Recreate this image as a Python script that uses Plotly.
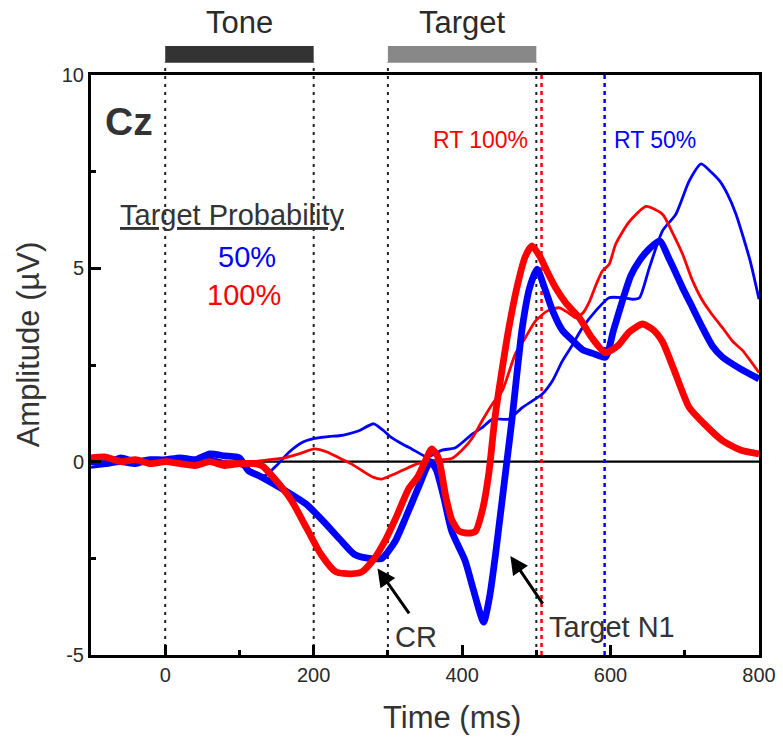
import plotly.graph_objects as go

# ---------------- data ----------------
thick_red_t = [-100,-80,-60,-40,-20,0,20,40,60,80,100,120,130,150,170,190,210,230,250,265,282,296,312,328,340,350,359,368,378,386,396,408,418,428,436,444,454,463,475,485,494,505,515,526,540,558,575,593,610,625,643,658,670,685,706,725,751,775,800]
thick_red_v = [0.1,0.12,0.0,0.05,-0.05,0.0,-0.05,-0.1,0.0,-0.1,-0.05,-0.05,-0.1,-0.5,-1.0,-1.7,-2.4,-2.85,-2.9,-2.85,-2.5,-2.05,-1.4,-0.7,-0.4,0.0,0.33,0.1,-0.9,-1.5,-1.8,-1.85,-1.8,-1.2,-0.3,1.1,2.4,3.46,4.6,5.3,5.58,5.3,4.9,4.5,4.1,3.72,3.2,2.82,3.0,3.35,3.56,3.4,3.1,2.4,1.4,1.0,0.54,0.3,0.2]

thick_blue_t = [-100,-80,-60,-40,-20,0,20,40,60,80,100,112,130,166,190,211,235,255,275,292,310,325,341,357,365,375,386,404,415,429,437,445,452,459,467,474,481,491,501,511,522,535,549,562,576,593,604,616,627,639,652,666,680,697,710,724,737,751,775,800]
thick_blue_v = [0.0,-0.05,0.1,0.0,0.05,0.05,0.1,0.05,0.2,0.15,0.1,-0.23,-0.4,-0.8,-1.1,-1.5,-2.0,-2.4,-2.5,-2.5,-2.05,-1.4,-0.67,0.0,-0.2,-0.9,-1.8,-2.56,-3.3,-4.15,-3.5,-2.4,-1.3,-0.2,1.06,2.3,3.46,4.5,4.98,4.5,3.9,3.4,3.13,2.9,2.8,2.7,3.4,4.16,4.8,5.2,5.5,5.71,5.2,4.5,4.0,3.46,3.0,2.7,2.4,2.14]

thin_red_t = [-100,-60,-20,0,40,80,116,140,161,180,201,218,234,250,265,280,292,305,319,340,359,386,400,414,427,441,454,472,485,499,515,531,543,553,563,572,581,589,598,607,625,648,670,684,697,710,724,737,751,765,778,800]
thin_red_v = [0.05,0.05,0.0,0.0,-0.05,0.0,0.0,0.05,0.1,0.2,0.33,0.25,0.1,-0.05,-0.23,-0.4,-0.45,-0.35,-0.23,-0.05,0.03,0.08,0.3,0.62,1.06,1.5,1.83,2.8,3.2,3.64,3.9,3.98,3.85,3.72,3.85,4.16,4.6,4.93,5.1,5.63,6.2,6.6,6.4,5.9,5.37,4.7,4.16,3.8,3.46,3.1,2.87,2.3]

thin_blue_t = [-100,-80,-60,-40,-20,0,20,40,60,80,100,116,134,150,166,185,201,220,234,247,261,281,293,305,320,332,353,363,373,391,414,427,441,463,481,508,522,535,548,562,580,598,616,630,639,652,670,688,706,722,735,747,758,769,788,800]
thin_blue_v = [-0.15,-0.1,-0.05,-0.1,0.0,-0.05,0.0,0.05,0.1,0.0,-0.1,-0.23,-0.36,-0.1,0.23,0.5,0.6,0.65,0.67,0.72,0.8,0.98,0.82,0.62,0.45,0.33,0.12,0.2,0.3,0.36,0.72,0.88,1.1,1.1,1.4,1.75,2.1,2.6,3.0,3.46,3.9,4.24,4.24,4.2,4.24,5.0,5.97,6.4,7.26,7.7,7.5,7.26,6.9,6.4,5.2,4.2]

event_lines = [0, 200, 300, 500]
rt_100 = 507
rt_50 = 592
tone_span = [0, 200]
target_span = [300, 500]
x_ticks = [0, 200, 400, 600, 800]
x_minor = [-100, 100, 300, 500, 700]
y_ticks = [-5, 0, 5, 10]
y_minor = [-2.5, 2.5, 7.5]

RED = "#ff0000"
BLUE = "#0000ff"
TXT = "#2a2a2a"
FONT = "Arial, Liberation Sans, sans-serif"

fig = go.Figure()
sm = 0.6
fig.add_trace(go.Scatter(x=thin_blue_t, y=thin_blue_v, mode="lines",
                         line=dict(color=BLUE, width=2.8, shape="spline", smoothing=sm)))
fig.add_trace(go.Scatter(x=thin_red_t, y=thin_red_v, mode="lines",
                         line=dict(color=RED, width=2.8, shape="spline", smoothing=sm)))
fig.add_trace(go.Scatter(x=thick_blue_t, y=thick_blue_v, mode="lines",
                         line=dict(color=BLUE, width=6.8, shape="spline", smoothing=sm)))
fig.add_trace(go.Scatter(x=thick_red_t, y=thick_red_v, mode="lines",
                         line=dict(color=RED, width=6.8, shape="spline", smoothing=sm)))

shapes = []
shapes.append(dict(type="line", xref="paper", yref="y", x0=0, x1=1, y0=0, y1=0,
                   line=dict(color="black", width=2.3), layer="below"))
for xv in event_lines:
    shapes.append(dict(type="line", xref="x", yref="paper", x0=xv, x1=xv, y0=0, y1=1.021,
                       line=dict(color="#222222", width=2, dash="3px,5px"), layer="below"))
shapes.append(dict(type="line", xref="x", yref="paper", x0=rt_100, x1=rt_100, y0=0, y1=1,
                   line=dict(color=RED, width=2.5, dash="4px,4px"), layer="below"))
shapes.append(dict(type="line", xref="x", yref="paper", x0=rt_50, x1=rt_50, y0=0, y1=1,
                   line=dict(color=BLUE, width=2.5, dash="4px,4px"), layer="below"))
shapes.append(dict(type="rect", xref="x", yref="paper", x0=tone_span[0], x1=tone_span[1],
                   y0=1.021, y1=1.05, fillcolor="#333333", line=dict(width=0)))
shapes.append(dict(type="rect", xref="x", yref="paper", x0=target_span[0], x1=target_span[1],
                   y0=1.021, y1=1.05, fillcolor="#888888", line=dict(width=0)))

annotations = [
    dict(x=sum(tone_span)/2, y=1.0897, xref="x", yref="paper", text="Tone", showarrow=False,
         font=dict(family=FONT, size=31, color=TXT), yanchor="middle"),
    dict(x=sum(target_span)/2, y=1.0897, xref="x", yref="paper", text="Target", showarrow=False,
         font=dict(family=FONT, size=31, color=TXT), yanchor="middle"),
    dict(x=-48.5, y=8.8, xref="x", yref="y", text="<b>Cz</b>", showarrow=False,
         font=dict(family=FONT, size=39, color="#333333")),
    dict(x=90, y=6.38, xref="x", yref="y", text="<u>Target Probability</u>", showarrow=False,
         font=dict(family=FONT, size=29, color="#333333")),
    dict(x=110, y=5.29, xref="x", yref="y", text="50%", showarrow=False,
         font=dict(family=FONT, size=29, color=BLUE)),
    dict(x=106, y=4.31, xref="x", yref="y", text="100%", showarrow=False,
         font=dict(family=FONT, size=29, color=RED)),
    dict(x=491, y=8.32, xref="x", yref="y", text="RT 100%", showarrow=False, xanchor="right",
         font=dict(family=FONT, size=23, color=RED)),
    dict(x=602, y=8.32, xref="x", yref="y", text="RT 50%", showarrow=False, xanchor="left",
         font=dict(family=FONT, size=23, color=BLUE)),
    dict(x=286, y=-2.76, ax=330, ay=-3.96, xref="x", yref="y", axref="x", ayref="y",
         text="", showarrow=True, arrowhead=2, arrowsize=1.2, arrowwidth=3, arrowcolor="black"),
    dict(x=465, y=-2.44, ax=510, ay=-3.71, xref="x", yref="y", axref="x", ayref="y",
         text="", showarrow=True, arrowhead=2, arrowsize=1.2, arrowwidth=3, arrowcolor="black"),
    dict(x=338, y=-4.53, xref="x", yref="y", text="CR", showarrow=False,
         font=dict(family=FONT, size=29, color="#333333")),
    dict(x=514, y=-4.27, xref="x", yref="y", text="Target N1", showarrow=False, xanchor="left",
         font=dict(family=FONT, size=29, color="#333333")),
    dict(x=0.54, y=-0.107, xref="paper", yref="paper", text="Time (ms)", showarrow=False,
         font=dict(family=FONT, size=31, color="#333333"), yanchor="middle"),
    dict(x=-0.094, y=0.536, xref="paper", yref="paper", text="Amplitude (\u00b5V)", showarrow=False,
         textangle=-90, font=dict(family=FONT, size=31, color="#333333"), xanchor="center", yanchor="middle"),
]

fig.update_layout(
    width=783, height=743,
    margin=dict(l=91, r=24, t=75, b=88, autoexpand=False),
    paper_bgcolor="white", plot_bgcolor="white",
    showlegend=False,
    shapes=shapes, annotations=annotations,
    font=dict(family=FONT, color=TXT),
    xaxis=dict(range=[-100, 800], tickvals=x_ticks, ticktext=[str(v) for v in x_ticks],
               ticks="inside", ticklen=10, tickwidth=2.5, tickcolor="black",
               minor=dict(tickvals=x_minor, ticks="inside", ticklen=5, tickwidth=2.5, tickcolor="black"),
               showgrid=False, zeroline=False, showline=True, linecolor="black", linewidth=3, mirror=True,
               tickfont=dict(family=FONT, size=20, color=TXT)),
    yaxis=dict(range=[-5, 10], tickvals=y_ticks, ticktext=[str(v) for v in y_ticks],
               ticks="inside", ticklen=10, tickwidth=2.5, tickcolor="black",
               minor=dict(tickvals=y_minor, ticks="inside", ticklen=5, tickwidth=2.5, tickcolor="black"),
               showgrid=False, zeroline=False, showline=True, linecolor="black", linewidth=3, mirror=True,
               tickfont=dict(family=FONT, size=20, color=TXT)),
)

fig.write_html("out.html", config={"displayModeBar": False},
               post_script="document.body.style.margin='0px';")
